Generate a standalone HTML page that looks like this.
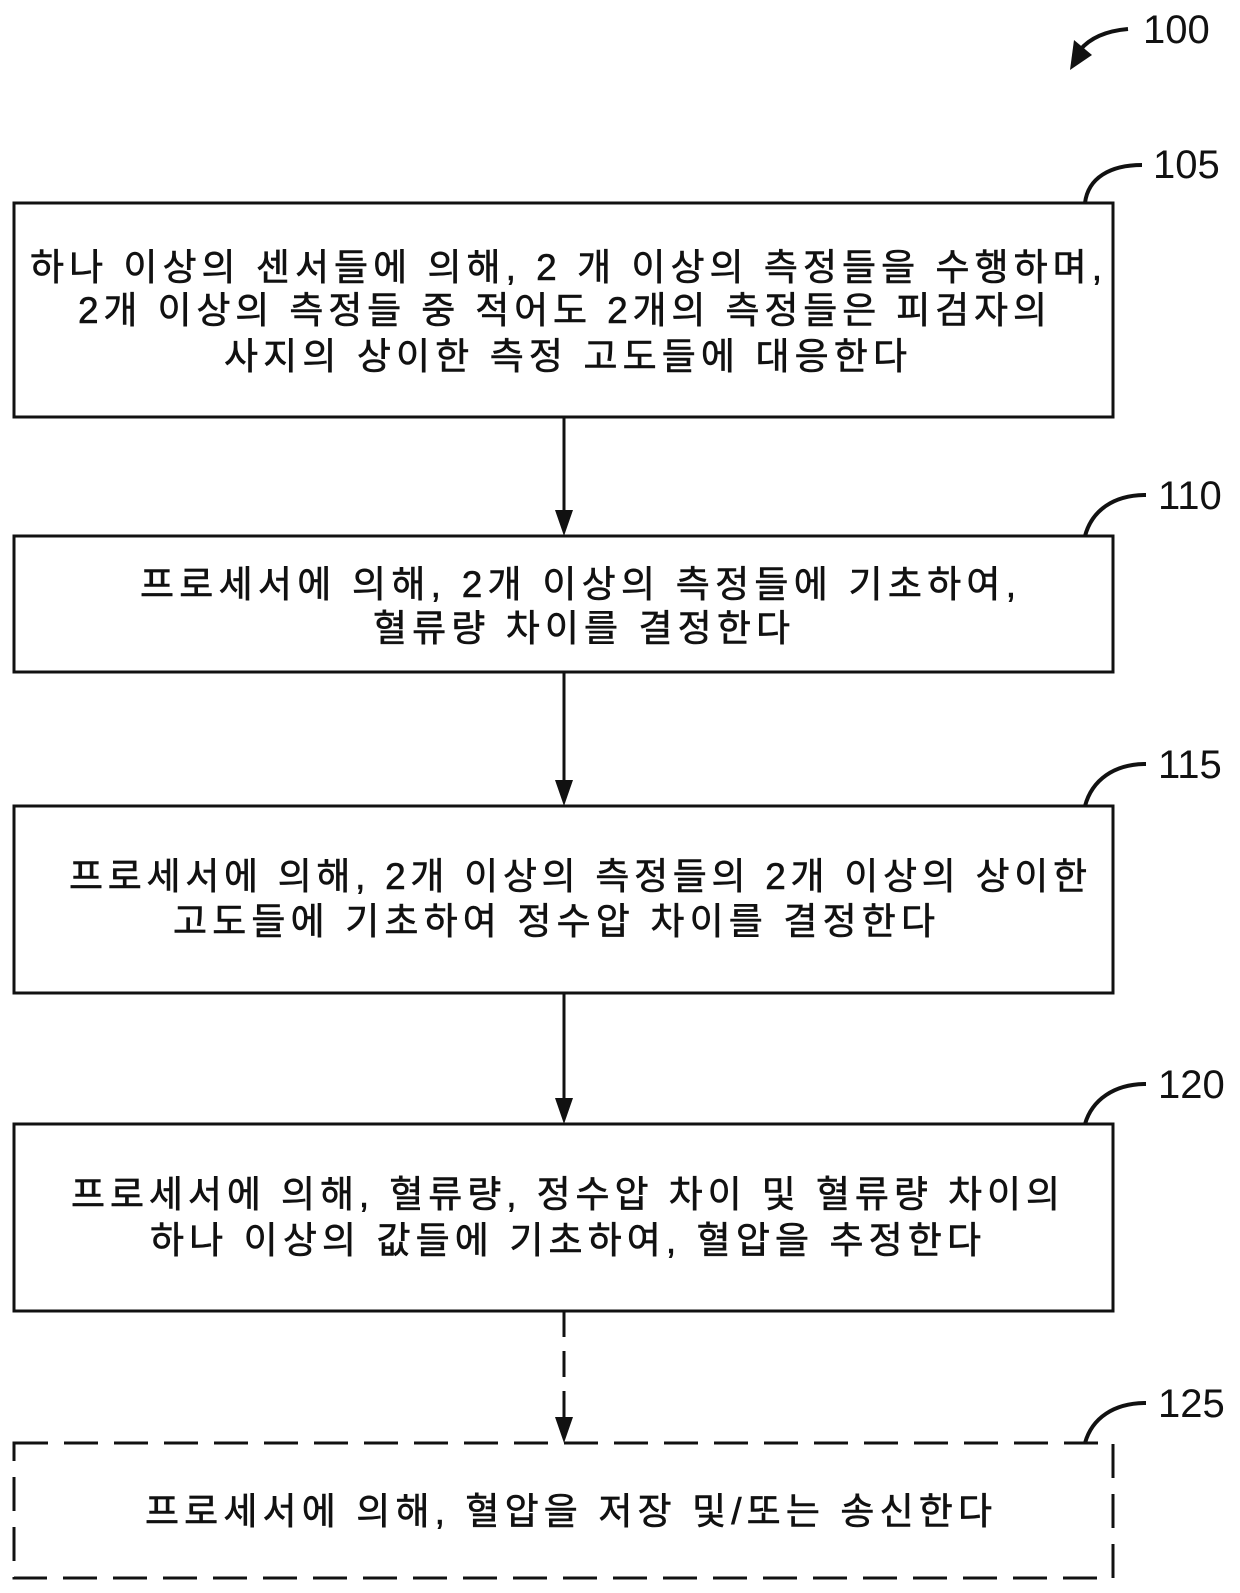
<!DOCTYPE html>
<html><head><meta charset="utf-8"><style>
html,body{margin:0;padding:0;background:#fff}
svg{display:block}
text{font-family:"Liberation Sans","Noto Sans CJK KR","NanumGothic",sans-serif;fill:#111}
.k{font-size:37px;stroke:#111;stroke-width:0.6}
.n{font-size:40px}
</style></head><body>
<svg width="1240" height="1593" viewBox="0 0 1240 1593" xmlns="http://www.w3.org/2000/svg">
<g fill="none" stroke="#111" stroke-width="3">
<rect x="14" y="203" width="1099" height="214"/>
<rect x="14" y="536" width="1099" height="136"/>
<rect x="14" y="806" width="1099" height="187"/>
<rect x="14" y="1124" width="1099" height="187"/>
<rect x="14" y="1443" width="1099" height="135" stroke-dasharray="34,16"/>
<line x1="564" y1="417" x2="564" y2="510"/>
<line x1="564" y1="672" x2="564" y2="780"/>
<line x1="564" y1="993" x2="564" y2="1098"/>
<line x1="564" y1="1311" x2="564" y2="1417" stroke-dasharray="26,14"/>
<path d="M1128 29 C1105 31 1090 38 1080 50" stroke-width="4"/>
<path d="M1142 165 C1110 165 1088 178 1085 203" stroke-width="4"/>
<path d="M1146 495 C1114 495 1092 510 1085 536" stroke-width="4"/>
<path d="M1146 764 C1114 764 1092 780 1085 806" stroke-width="4"/>
<path d="M1146 1084 C1114 1084 1092 1100 1085 1124" stroke-width="4"/>
<path d="M1146 1403 C1114 1403 1092 1418 1085 1443" stroke-width="4"/>
</g>
<g fill="#111">
<polygon points="1070,70 1074,40 1092,55"/>
<polygon points="555,510 573,510 564,536"/>
<polygon points="555,780 573,780 564,806"/>
<polygon points="555,1098 573,1098 564,1124"/>
<polygon points="555,1417 573,1417 564,1443"/>
</g>
<text class="n" x="1143" y="43">100</text>
<text class="n" x="1153" y="178">105</text>
<text class="n" x="1158" y="509">110</text>
<text class="n" x="1158" y="778">115</text>
<text class="n" x="1158" y="1098">120</text>
<text class="n" x="1158" y="1417">125</text>
<g class="k">
<text x="30" y="280" textLength="1072" lengthAdjust="spacing">하나 이상의 센서들에 의해, 2 개 이상의 측정들을 수행하며,</text>
<text x="78" y="323" textLength="969" lengthAdjust="spacing">2개 이상의 측정들 중 적어도 2개의 측정들은 피검자의</text>
<text x="224" y="369" textLength="683" lengthAdjust="spacing">사지의 상이한 측정 고도들에 대응한다</text>
<text x="140" y="597" textLength="876" lengthAdjust="spacing">프로세서에 의해, 2개 이상의 측정들에 기초하여,</text>
<text x="373" y="641" textLength="417" lengthAdjust="spacing">혈류량 차이를 결정한다</text>
<text x="69" y="889" textLength="1018" lengthAdjust="spacing">프로세서에 의해, 2개 이상의 측정들의 2개 이상의 상이한</text>
<text x="173" y="934" textLength="762" lengthAdjust="spacing">고도들에 기초하여 정수압 차이를 결정한다</text>
<text x="71" y="1207" textLength="989" lengthAdjust="spacing">프로세서에 의해, 혈류량, 정수압 차이 및 혈류량 차이의</text>
<text x="150" y="1253" textLength="831" lengthAdjust="spacing">하나 이상의 값들에 기초하여, 혈압을 추정한다</text>
<text x="145" y="1524" textLength="847" lengthAdjust="spacing">프로세서에 의해, 혈압을 저장 및/또는 송신한다</text>
</g>
</svg>
</body></html>
